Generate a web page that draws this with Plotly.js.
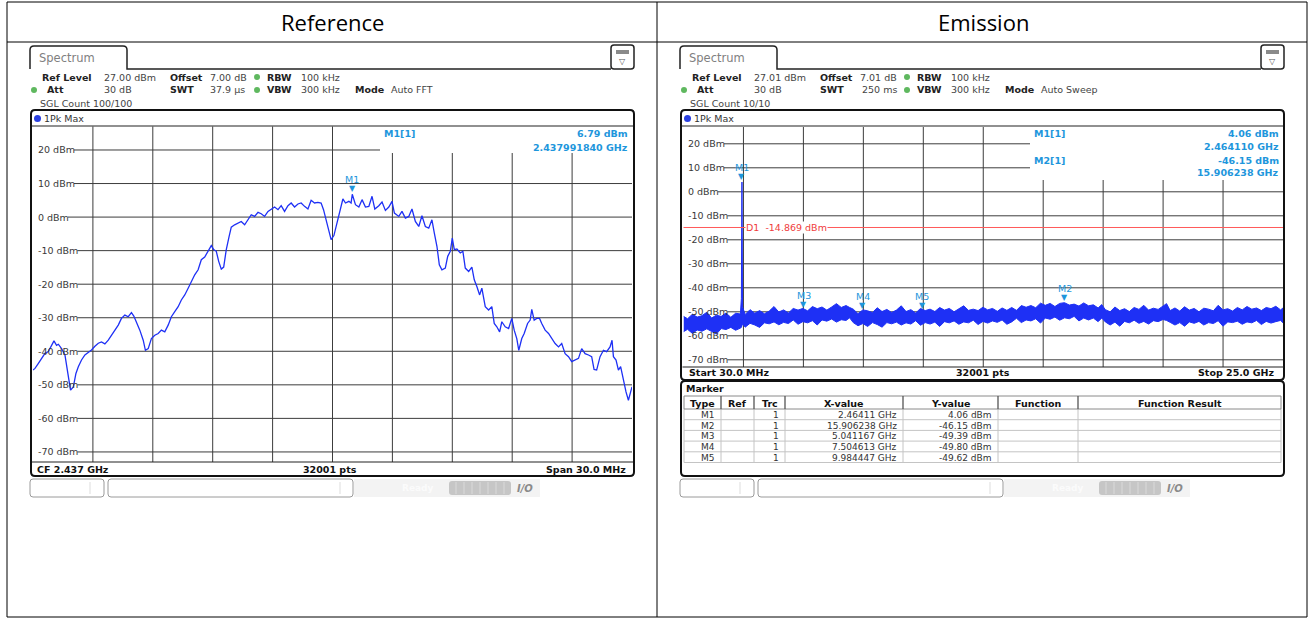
<!DOCTYPE html>
<html><head><meta charset="utf-8">
<script src="https://cdn.plot.ly/plotly-3.0.1.min.js"></script>
<style>html,body{margin:0;padding:0;background:#fff;}#chart{width:1311px;height:619px;}</style>
</head><body><div id="chart"></div>
<script>
// ---------------- DATA ----------------
const columnTitles = ['Reference', 'Emission'];

// Reference: channel power spectrum, CF 2.437 GHz, span 30 MHz
const refFreqMHz = [2422.00,2422.10,2422.27,2422.43,2422.60,2422.77,2422.93,2423.05,2423.18,2423.27,2423.43,2423.60,2423.72,2423.82,2423.88,2424.02,2424.15,2424.27,2424.43,2424.60,2424.77,2424.93,2425.10,2425.27,2425.43,2425.60,2425.77,2425.93,2426.10,2426.27,2426.43,2426.60,2426.77,2426.93,2427.05,2427.18,2427.35,2427.52,2427.63,2427.77,2427.93,2428.10,2428.27,2428.43,2428.60,2428.77,2428.93,2429.10,2429.27,2429.43,2429.60,2429.77,2429.93,2430.10,2430.27,2430.43,2430.60,2430.77,2430.93,2431.05,2431.18,2431.30,2431.43,2431.55,2431.68,2431.82,2431.93,2432.10,2432.27,2432.43,2432.60,2432.77,2432.93,2433.10,2433.27,2433.43,2433.60,2433.77,2433.93,2434.10,2434.27,2434.43,2434.60,2434.77,2434.93,2435.10,2435.27,2435.43,2435.60,2435.77,2435.93,2436.10,2436.27,2436.43,2436.55,2436.68,2436.80,2436.93,2437.07,2437.27,2437.40,2437.52,2437.65,2437.82,2437.93,2437.99,2438.15,2438.32,2438.48,2438.65,2438.82,2438.98,2439.12,2439.32,2439.48,2439.65,2439.82,2439.98,2440.10,2440.32,2440.48,2440.65,2440.82,2440.98,2441.15,2441.32,2441.48,2441.65,2441.82,2441.98,2442.10,2442.23,2442.35,2442.48,2442.65,2442.77,2442.90,2443.00,2443.10,2443.23,2443.40,2443.53,2443.65,2443.82,2443.98,2444.10,2444.23,2444.37,2444.48,2444.65,2444.82,2444.98,2445.10,2445.23,2445.37,2445.48,2445.65,2445.82,2445.98,2446.10,2446.23,2446.33,2446.48,2446.60,2446.77,2446.90,2446.98,2447.10,2447.23,2447.37,2447.48,2447.65,2447.82,2447.98,2448.15,2448.32,2448.48,2448.65,2448.82,2448.98,2449.15,2449.32,2449.48,2449.65,2449.82,2449.98,2450.10,2450.23,2450.40,2450.57,2450.73,2450.90,2451.00,2451.07,2451.20,2451.32,2451.43,2451.57,2451.70,2451.82,2451.90,2452.00];
const refLevelDbm = [-45.6,-45.1,-43.6,-42.1,-40.6,-40.1,-38.2,-36.9,-38.2,-37.9,-39.2,-41.1,-45.6,-49.6,-51.6,-50.6,-46.6,-44.6,-42.6,-41.1,-40.4,-39.6,-38.5,-37.6,-37.2,-37.8,-36.7,-35.2,-33.7,-32.2,-30.2,-29.2,-29.7,-28.5,-29.5,-31.2,-33.7,-36.7,-39.7,-39.2,-36.2,-35.2,-34.7,-33.7,-34.2,-32.2,-29.7,-28.2,-26.7,-24.7,-23.2,-21.2,-19.2,-17.2,-15.7,-12.7,-11.9,-10.2,-8.5,-9.7,-10.2,-13.2,-15.5,-14.9,-9.7,-5.8,-3.0,-2.3,-1.8,-1.3,-2.3,-0.8,0.7,0.2,1.4,1.0,0.2,1.7,2.4,3.0,2.2,3.4,1.7,3.4,4.2,3.0,3.9,4.2,3.2,2.4,5.0,4.2,4.4,4.2,2.2,-0.8,-3.8,-6.7,-5.5,-0.3,3.2,5.4,4.2,4.7,4.2,6.79,3.7,3.0,5.2,3.0,3.2,6.2,2.4,3.4,4.5,2.0,3.0,4.7,1.2,0.2,1.7,-0.3,0.2,2.4,-1.3,-2.8,0.4,-2.8,-3.3,-0.8,-4.8,-8.7,-14.2,-15.7,-15.2,-11.7,-10.2,-6.3,-9.7,-9.5,-10.7,-10.2,-15.2,-16.2,-14.9,-18.7,-20.7,-23.2,-21.2,-26.7,-27.7,-26.7,-31.7,-32.7,-34.2,-31.2,-32.7,-33.2,-30.2,-33.7,-36.2,-39.7,-36.2,-34.7,-31.7,-30.7,-27.5,-30.7,-30.2,-30.2,-31.7,-33.7,-34.7,-36.2,-37.7,-38.7,-37.7,-40.7,-41.6,-43.1,-42.6,-42.1,-39.2,-40.7,-41.1,-41.6,-45.4,-45.6,-41.6,-39.7,-40.1,-38.7,-36.7,-41.6,-42.6,-45.6,-44.6,-48.6,-52.1,-54.6,-52.6,-50.6];
const refMarkerNames = ['M1'];
const refMarkerFreqMHz = [2437.99184];
const refMarkerDbm = [6.79];

const yTicksDbm = [20, 10, 0, -10, -20, -30, -40, -50, -60, -70];

// Emission: 30 MHz .. 25 GHz, noise band (upper / lower envelope of the max-hold trace)
const emFreqGHz = [0.03,0.2,0.4,0.6,0.8,1.0,1.2,1.4,1.6,1.8,2.0,2.2,2.4,2.44,2.464,2.49,2.6,2.8,3.0,3.2,3.4,3.6,3.8,4.0,4.2,4.4,4.6,4.8,5.0,5.2,5.4,5.6,5.8,6.0,6.2,6.4,6.6,6.8,6.95,7.1,7.3,7.5,7.7,7.9,8.1,8.3,8.5,8.7,8.9,9.1,9.3,9.5,9.7,9.9,10.1,10.3,10.5,10.7,10.9,11.1,11.3,11.5,11.7,11.9,12.1,12.3,12.5,12.7,12.9,13.1,13.3,13.5,13.7,13.9,14.1,14.3,14.5,14.7,14.9,15.1,15.3,15.5,15.7,15.9,16.1,16.3,16.5,16.7,16.9,17.1,17.3,17.45,17.6,17.8,18.0,18.2,18.4,18.6,18.8,19.0,19.2,19.4,19.6,19.8,20.0,20.15,20.3,20.5,20.7,20.9,21.1,21.3,21.5,21.7,21.9,22.1,22.3,22.5,22.7,22.9,23.1,23.3,23.5,23.7,23.9,24.1,24.3,24.5,24.7,24.9,25.0];
const emTopDbm = [-51.9,-52.9,-51.0,-52.2,-51.6,-50.2,-52.6,-51.4,-51.9,-50.5,-52.3,-50.6,-50.9,
  -44.5,4.06,-48.0,
  -51.1,-49.1,-50.6,-49.5,-50.8,-49.7,-47.8,-50.1,-49.2,-50.5,-48.6,-49.3,-48.6,-49.6,-47.8,-48.7,-48.0,-49.3,-48.0,-46.6,-48.2,-47.4,-48.2,
  -48.9,-50.8,-49.2,-49.6,-50.3,-48.3,-49.9,-49.0,-50.3,-49.3,-47.5,-49.9,-49.1,-50.5,-48.6,-49.5,-48.9,-49.9,-48.2,-49.3,-48.6,-50.0,-48.8,-47.5,-49.4,-48.9,-49.5,-48.1,-49.2,-48.6,-49.8,-48.4,-49.4,
  -48.2,-49.4,-47.4,-48.1,-47.4,-48.3,-46.4,-47.3,-46.5,-47.8,-46.5,-46.2,-47.2,-46.8,-47.6,-46.3,-47.5,-47.1,-48.4,-47.0,
  -49.1,-50.0,-48.0,-49.5,-48.7,-49.9,-48.2,-49.0,-47.3,-49.3,-48.5,-49.0,-47.5,-46.6,
  -49.5,-48.4,-49.7,-47.9,-49.3,-48.6,-50.0,-48.5,-48.9,-49.6,-47.3,-49.2,-48.7,-49.7,-48.2,-49.2,-47.8,-48.9,-48.4,-49.5,-48.2,-48.7,-47.7,-49.2,-48.4];
const emBottomDbm = [-58.3,-57.3,-59.0,-57.6,-58.1,-57.1,-58.2,-59.3,-57.0,-57.4,-56.5,-57.7,-56.8,
  -56.5,-55.8,-55.0,
  -56.4,-54.8,-55.5,-56.5,-54.6,-55.0,-54.2,-55.4,-54.4,-54.9,-53.4,-55.2,-54.1,-54.6,-53.7,-55.5,-53.4,-53.9,-53.0,-54.3,-53.3,-53.6,-52.5,
  -54.5,-55.8,-54.9,-56.1,-54.5,-55.3,-56.4,-54.5,-55.0,-54.3,-55.5,-54.6,-55.1,-53.7,-55.6,-54.5,-55.1,-54.3,-56.1,-54.1,-54.6,-53.8,-55.2,-54.2,-54.6,-53.5,-55.3,-54.0,-54.7,-53.8,-54.4,-53.4,-55.2,
  -54.2,-52.7,-54.5,-53.4,-53.8,-52.9,-54.7,-52.6,-53.1,-52.2,-53.5,-52.5,-52.9,-51.9,-53.8,-52.6,-53.4,-52.6,-54.1,-52.6,
  -54.2,-55.5,-54.3,-56.0,-54.0,-54.6,-53.5,-54.8,-54.0,-55.1,-53.7,-54.1,-53.2,-53.6,
  -54.4,-55.5,-54.5,-56.0,-54.2,-54.8,-54.0,-55.5,-54.5,-54.9,-53.7,-56.0,-54.2,-54.5,-53.9,-55.2,-54.2,-54.6,-53.6,-55.3,-54.0,-54.7,-54.1,-53.6,-54.6];
const emDisplayLineDbm = -14.869;
const emMarkerNames = ['M1', 'M2', 'M3', 'M4', 'M5'];
const emMarkerFreqGHz = [2.46411, 15.906238, 5.041167, 7.504613, 9.984447];
const emMarkerDbm = [4.06, -46.15, -49.39, -49.80, -49.62];
const markerTableHeader = ['Type', 'Ref', 'Trc', 'X-value', 'Y-value', 'Function', 'Function Result'];
const markerTrace = ['1', '1', '1', '1', '1'];

// ---------------- LAYOUT HELPERS ----------------
const W = 1311, H = 619;
const X = p => p / W, Y = p => 1 - p / H;
const shapes = [], ann = [];
const F = 'DejaVu Sans, Verdana, sans-serif';
const MK = '#1e96dc';
const BLUE = 'rgb(30,48,245)';
const GRID = '#3c3c3c';
const ctx = document.createElement('canvas').getContext('2d');
ctx.font = '9.5px "DejaVu Sans"';

function line(x0, y0, x1, y1, color, width) {
  shapes.push({type:'line', xref:'paper', yref:'paper', x0:X(x0), y0:Y(y0), x1:X(x1), y1:Y(y1), line:{color:color, width:width||1}});
}
function rect(x0, y0, x1, y1, lc, fill, lw) {
  shapes.push({type:'rect', xref:'paper', yref:'paper', x0:X(x0), y0:Y(y0), x1:X(x1), y1:Y(y1),
    line:{color:lc||'rgba(0,0,0,0)', width:lw||0}, fillcolor:fill||'rgba(0,0,0,0)'});
}
function rrect(x0, y0, x1, y1, r, lc, fill, lw) {
  const p = `M ${X(x0+r)},${Y(y0)} L ${X(x1-r)},${Y(y0)} Q ${X(x1)},${Y(y0)} ${X(x1)},${Y(y0+r)} L ${X(x1)},${Y(y1-r)} Q ${X(x1)},${Y(y1)} ${X(x1-r)},${Y(y1)} L ${X(x0+r)},${Y(y1)} Q ${X(x0)},${Y(y1)} ${X(x0)},${Y(y1-r)} L ${X(x0)},${Y(y0+r)} Q ${X(x0)},${Y(y0)} ${X(x0+r)},${Y(y0)} Z`;
  shapes.push({type:'path', xref:'paper', yref:'paper', path:p, line:{color:lc||'rgba(0,0,0,0)', width:lw||0}, fillcolor:fill||'rgba(0,0,0,0)'});
}
function dot(cx, cy, r, color) {
  shapes.push({type:'circle', xref:'paper', yref:'paper', x0:X(cx-r), x1:X(cx+r), y0:Y(cy+r), y1:Y(cy-r), line:{width:0}, fillcolor:color});
}
function text(x, y, t, o) {
  o = o || {};
  ann.push({xref:'paper', yref:'paper', x:X(x), y:Y(y), text:t, showarrow:false,
    xanchor:o.xa||'left', yanchor:'middle', align:o.xa||'left',
    font:{family:o.family||F, size:o.size||9.5, color:o.color||'#222'}});
}

// ---------------- OUTER TABLE ----------------
rect(7, 2, 1307, 617, '#000', null, 1);
line(7, 42, 1307, 42, '#000', 1);
line(657, 2, 657, 617, '#000', 1);
text(332, 21.5, columnTitles[0], {xa:'center', family:'Open Sans, Liberation Sans', size:22, color:'#000'});
text(983, 21.5, columnTitles[1], {xa:'center', family:'Open Sans, Liberation Sans', size:22, color:'#000'});

// ---------------- INSTRUMENT PANEL CHROME ----------------
function panel(o, info, frameBottom) {
  shapes.push({type:'path', xref:'paper', yref:'paper', line:{color:'#222', width:1.5},
    path:`M ${X(30+o)},${Y(69)} L ${X(30+o)},${Y(50)} Q ${X(30+o)},${Y(46)} ${X(34+o)},${Y(46)} L ${X(123+o)},${Y(46)} Q ${X(127+o)},${Y(46)} ${X(127+o)},${Y(50)} L ${X(127+o)},${Y(69)} L ${X(611+o)},${Y(69)}`});
  text(37+o, 58, 'Spectrum', {size:11.5, color:'#808080'});
  rrect(611+o, 45, 634+o, 69, 3, '#222', '#fff', 1.5);
  rect(616+o, 50, 629+o, 54, null, '#8a8a8a');
  text(622.5+o, 61.5, '▽', {xa:'center', size:8, color:'#555'});
  text(40+o, 77, '<b>Ref Level</b>');  text(102+o, 77, info.ref, {color:'#444'});
  text(168+o, 77, '<b>Offset</b>');    text(208+o, 77, info.off, {color:'#444'});
  dot(257+o, 77, 3, '#5fb85f');
  text(265+o, 77, '<b>RBW</b>');       text(299+o, 77, '100 kHz', {color:'#444'});
  dot(34+o, 90, 3, '#5fb85f');
  text(45+o, 90, '<b>Att</b>');        text(134+o, 90, '30 dB', {xa:'right', color:'#444'});
  text(168+o, 90, '<b>SWT</b>');       text(info.swtX+o, 90, info.swt, {color:'#444'});
  dot(257+o, 90, 3, '#5fb85f');
  text(265+o, 90, '<b>VBW</b>');       text(299+o, 90, '300 kHz', {color:'#444'});
  text(353+o, 90, '<b>Mode</b>');      text(389+o, 90, info.mode, {color:'#444'});
  text(38+o, 104, info.sgl, {color:'#444'});
  rrect(31+o, 110, 634+o, frameBottom, 4, '#111', null, 2);
  line(32+o, 126, 633+o, 126, '#222', 1.2);
  dot(37.5+o, 118.5, 3.5, '#2a3fe0');
  text(42+o, 118.5, '1Pk Max', {color:'#333'});
  rrect(30+o, 479, 104+o, 497, 3, '#9a9a9a', '#fff', 1);
  line(90+o, 482, 90+o, 494, '#dddddd', 1);
  rrect(108+o, 479, 353+o, 497, 3, '#9a9a9a', '#fff', 1);
  line(340+o, 482, 340+o, 494, '#dddddd', 1);
  rect(354+o, 479, 540+o, 497, null, '#f3f3f3');
  text(400+o, 488, '<b>Ready</b>', {size:9, color:'#fbfbfb'});
  rrect(449+o, 481, 511+o, 495, 3, null, '#c6c6c6');
  for (let k = 0; k < 7; k++) line(456+o+k*8, 482, 456+o+k*8, 494, '#dadada', 1);
  text(515+o, 488, '<b><i>I/O</i></b>', {size:10, color:'#8a8a8a'});
}
panel(0,   {ref:'27.00 dBm', off:'7.00 dB', swt:'37.9 µs', swtX:208, mode:'Auto FFT', sgl:'SGL Count 100/100'}, 476);
panel(650, {ref:'27.01 dBm', off:'7.01 dB', swt:'250 ms', swtX:210, mode:'Auto Sweep', sgl:'SGL Count 10/10'}, 380);

// ---------------- GRIDS ----------------
function grid(xa, ya, pxL, pxR, pyT, pyB, xmin, xmax, labelX, boxL, boxB) {
  yTicksDbm.forEach(v => {
    const lab = v + ' dBm';
    const start = labelX + ctx.measureText(lab).width + 1;
    const py = pyT + (27 - v) / 100 * (pyB - pyT);
    const end = py < boxB ? boxL : pxR;
    shapes.push({type:'line', layer:'below', xref:'paper', yref:ya, x0:X(start), x1:X(end), y0:v, y1:v, line:{color:GRID, width:1}});
    ann.push({xref:'paper', yref:ya, x:X(labelX), y:v, text:lab, showarrow:false, xanchor:'left', yanchor:'middle',
      font:{family:F, size:9.5, color:'#3a3a3a'}});
  });
  for (let i = 1; i < 10; i++) {
    const f = xmin + i * (xmax - xmin) / 10;
    const px = pxL + i * (pxR - pxL) / 10;
    shapes.push({type:'line', layer:'below', xref:xa, yref:'paper', x0:f, x1:f, y0:Y(pyB), y1:Y(px > boxL ? boxB : pyT), line:{color:GRID, width:1}});
  }
  line(pxL - 1, pyB, pxR + 1, pyB, '#222', 1.2);
}
grid('x', 'y', 33, 632, 126.5, 462, 2422, 2452, 36, 380, 153);
grid('x2', 'y2', 683.5, 1283, 127, 367, 0.03, 25, 686, 1030, 180);

text(35, 469, '<b>CF 2.437 GHz</b>', {color:'#111'});
text(330, 469, '<b>32001 pts</b>', {xa:'center', color:'#111'});
text(628, 469, '<b>Span 30.0 MHz</b>', {xa:'right', color:'#111'});
text(687, 373, '<b>Start 30.0 MHz</b>', {color:'#111'});
text(983, 373, '<b>32001 pts</b>', {xa:'center', color:'#111'});
text(1277, 373, '<b>Stop 25.0 GHz</b>', {xa:'right', color:'#111'});

// marker readouts
text(382, 133.5, '<b>M1[1]</b>', {color:MK});
text(630, 133.5, '<b>' + refMarkerDbm[0].toFixed(2) + ' dBm</b>', {xa:'right', color:MK});
text(630, 147, '<b>' + (refMarkerFreqMHz[0] / 1000).toFixed(9) + ' GHz</b>', {xa:'right', color:MK});
text(1032, 133.5, '<b>M1[1]</b>', {color:MK});
text(1281, 133.5, '<b>' + emMarkerDbm[0].toFixed(2) + ' dBm</b>', {xa:'right', color:MK});
text(1281, 146.5, '<b>' + emMarkerFreqGHz[0].toFixed(6) + ' GHz</b>', {xa:'right', color:MK});
text(1032, 160, '<b>M2[1]</b>', {color:MK});
text(1281, 160, '<b>' + emMarkerDbm[1].toFixed(2) + ' dBm</b>', {xa:'right', color:MK});
text(1281, 173, '<b>' + emMarkerFreqGHz[1].toFixed(6) + ' GHz</b>', {xa:'right', color:MK});

function markers(names, xs, ys, xa, ya) {
  names.forEach((n, i) => {
    ann.push({xref:xa, yref:ya, x:xs[i], y:ys[i], text:'▼', showarrow:false, xanchor:'center', yanchor:'bottom', yshift:-1,
      font:{family:F, size:8, color:MK}});
    ann.push({xref:xa, yref:ya, x:xs[i], y:ys[i], text:n, showarrow:false, xanchor:'center', yanchor:'bottom', yshift:7,
      font:{family:F, size:9.5, color:MK}});
  });
}
markers(refMarkerNames, refMarkerFreqMHz, refMarkerDbm, 'x', 'y');
markers(emMarkerNames, emMarkerFreqGHz, emMarkerDbm, 'x2', 'y2');

shapes.push({type:'line', xref:'paper', yref:'y2', x0:X(683.5), x1:X(1283), y0:emDisplayLineDbm, y1:emDisplayLineDbm, line:{color:'#ff5a5a', width:1}});
ann.push({xref:'paper', yref:'y2', x:X(745), y:emDisplayLineDbm, text:'D1  ' + emDisplayLineDbm.toFixed(3) + ' dBm', showarrow:false,
  xanchor:'left', yanchor:'middle', bgcolor:'#fff', borderpad:0, font:{family:F, size:9.5, color:'#f03c3c'}});

// ---------------- MARKER TABLE ----------------
rrect(681, 381, 1284, 476, 4, '#111', null, 2);
text(684, 388.5, '<b>Marker</b>', {color:'#111'});
(function () {
  const cols = [684, 721, 754, 785, 903, 998, 1078, 1281];
  const hT = 396, hB = 409, rh = 10.7, n = emMarkerNames.length;
  const bottom = hB + n * rh;
  for (let r = 1; r <= n; r++) line(684, hB + r * rh, 1281, hB + r * rh, '#c4c4c4', 1);
  cols.forEach(c => line(c, hB, c, bottom, '#c4c4c4', 1));
  rect(684, hT, 1281, hB, '#8a8a8a', '#fff', 1);
  cols.slice(1, -1).forEach(c => line(c, hT, c, hB, '#555', 1.3));
  markerTableHeader.forEach((h, i) => text((cols[i] + cols[i + 1]) / 2, (hT + hB) / 2 + 0.5, '<b>' + h + '</b>', {xa:'center', color:'#111'}));
  const colText = [emMarkerNames, ['', '', '', '', ''], markerTrace,
    emMarkerFreqGHz.map(v => v + ' GHz'), emMarkerDbm.map(v => v.toFixed(2) + ' dBm')];
  colText.forEach((vals, ci) => vals.forEach((v, r) => {
    if (v) text(cols[ci + 1] - 4, hB + (r + 0.5) * rh + 0.5, v, {xa:'right', size:9, color:'#333'});
  }));
})();

// ---------------- TRACES ----------------
const traces = [
  {type:'scatter', mode:'lines', x:refFreqMHz, y:refLevelDbm, xaxis:'x', yaxis:'y', line:{color:BLUE, width:1.3}, hoverinfo:'skip'},
  {type:'scatter', mode:'lines', x:emFreqGHz, y:emBottomDbm, xaxis:'x2', yaxis:'y2', line:{color:BLUE, width:1}, hoverinfo:'skip'},
  {type:'scatter', mode:'lines', x:emFreqGHz, y:emTopDbm, xaxis:'x2', yaxis:'y2', fill:'tonexty', fillcolor:BLUE, line:{color:BLUE, width:1}, hoverinfo:'skip'}
];

const ax = (dom, rng, anchor) => ({domain:dom, range:rng, anchor:anchor, visible:false, fixedrange:true});
const layout = {
  width:W, height:H, margin:{l:0, r:0, t:0, b:0}, paper_bgcolor:'#fff', plot_bgcolor:'rgba(0,0,0,0)', showlegend:false,
  xaxis:ax([X(33), X(632)], [2422, 2452], 'y'),
  yaxis:ax([Y(462), Y(126.5)], [-73, 27], 'x'),
  xaxis2:ax([X(683.5), X(1283)], [0.03, 25], 'y2'),
  yaxis2:ax([Y(367), Y(127)], [-73, 27], 'x2'),
  shapes:shapes, annotations:ann
};
Plotly.newPlot('chart', traces, layout, {staticPlot:true, displayModeBar:false});
</script></body></html>
